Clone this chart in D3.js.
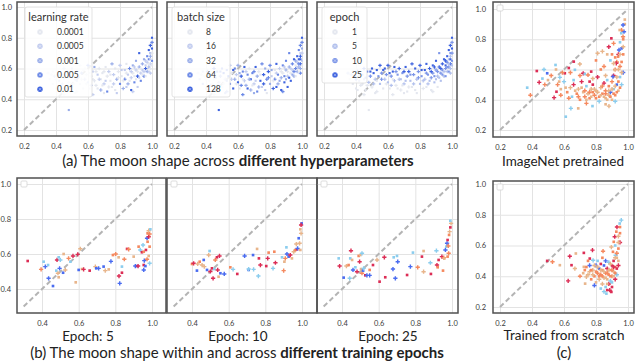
<!DOCTYPE html>
<html>
<head>
<meta charset="utf-8">
<script src="https://cdn.jsdelivr.net/npm/d3@7"></script>
<style>
  body { margin: 0; background: #fff; }
  svg { display: block; }
  text { font-family: Lato, "DejaVu Sans", sans-serif; }
</style>
</head>
<body>
<svg id="chart"></svg>
<script>
// ---- hyperparameter sweep (same runs in the three left panels of row a) ----
const hpX = [0.36,0.37,0.38,0.39,0.40,0.41,0.42,0.43,0.44,0.45, 0.45,0.46,0.47,0.48,0.48,0.49,0.50,0.50,0.51,0.52,
  0.53,0.53,0.54,0.55,0.55,0.56,0.57,0.58,0.58,0.59, 0.60,0.60,0.61,0.62,0.63,0.64,0.64,0.65,0.66,0.67,
  0.68,0.68,0.69,0.70,0.71,0.72,0.72,0.73,0.74,0.75, 0.75,0.76,0.77,0.78,0.78,0.79,0.80,0.80,0.81,0.82,
  0.83,0.83,0.84,0.85,0.85,0.86,0.87,0.87,0.88,0.88, 0.89,0.90,0.90,0.91,0.91,0.92,0.92,0.93,0.93,0.94,
  0.94,0.95,0.95,0.96,0.96,0.97,0.97,0.97,0.98,0.98, 0.98,0.99,0.99,0.99,1.00,1.00,1.00,0.99,1.00,0.99,
  0.41,0.45,0.52,0.63,0.70,0.35,
  0.38,0.40,0.42,0.44,0.46,0.47,0.49,0.51,0.53,0.56, 0.57,0.59,0.61,0.62,0.63,0.65,0.66,0.67,0.69,0.70,
  0.71,0.73,0.74,0.76,0.77,0.79,0.81,0.82,0.84,0.84, 0.86,0.87,0.89,0.89,0.90,0.91,0.92,0.93,0.94,0.95,
  0.96,0.96,0.97,0.98,0.98,0.99,0.99,1.00,1.00,0.88];
const hpY = [0.53,0.56,0.50,0.55,0.47,0.58,0.52,0.49,0.56,0.60, 0.53,0.46,0.58,0.51,0.33,0.55,0.60,0.48,0.57,0.53,
  0.59,0.45,0.55,0.62,0.50,0.57,0.47,0.53,0.60,0.56, 0.51,0.62,0.47,0.55,0.58,0.52,0.61,0.49,0.56,0.60,
  0.53,0.46,0.57,0.50,0.61,0.55,0.45,0.58,0.52,0.63, 0.48,0.56,0.60,0.53,0.44,0.58,0.50,0.62,0.55,0.47,
  0.59,0.53,0.63,0.50,0.56,0.60,0.46,0.54,0.62,0.57, 0.51,0.59,0.65,0.55,0.48,0.61,0.70,0.57,0.52,0.63,
  0.59,0.55,0.66,0.60,0.62,0.58,0.68,0.64,0.72,0.61, 0.66,0.75,0.70,0.63,0.80,0.77,0.73,0.68,0.65,0.57,
  0.46,0.43,0.44,0.43,0.44,0.57,
  0.58,0.53,0.56,0.50,0.54,0.49,0.58,0.50,0.52,0.53, 0.59,0.50,0.57,0.49,0.53,0.58,0.47,0.53,0.49,0.58,
  0.52,0.48,0.56,0.50,0.46,0.54,0.59,0.52,0.48,0.57, 0.52,0.58,0.55,0.61,0.53,0.58,0.54,0.60,0.56,0.58,
  0.55,0.65,0.61,0.63,0.58,0.60,0.66,0.70,0.62,0.45];
const hpLr = [0,0,0,1,0,0,1,0,0,1, 0,0,2,0,2,0,1,0,0,1, 0,0,1,0,0,2,0,1,0,0, 1,3,0,0,1,0,2,0,1,0,
  0,2,0,1,0,0,3,1,0,2, 0,1,0,2,1,0,3,1,0,2, 1,3,0,2,1,3,4,1,2,0, 3,1,2,4,1,2,4,1,3,2,
  1,3,2,4,1,2,3,1,4,2, 3,4,2,1,4,3,4,2,3,1, 0,0,0,1,0,0,
  0,0,0,1,0,0,0,0,1,0, 0,0,0,1,0,0,0,1,0,0, 1,0,0,1,0,0,1,0,1,0, 0,1,0,1,0,0,1,0,0,1,
  0,1,0,0,1,0,1,0,0,1];
const hpBs = [1,0,2,0,1,3,0,2,1,4, 0,2,3,1,4,2,3,0,4,1, 3,2,4,1,3,0,4,2,3,1, 4,2,0,4,3,1,4,2,3,0,
  4,2,3,1,4,2,3,0,4,3, 1,4,2,3,0,4,2,3,1,4, 0,3,4,2,3,1,4,2,3,0, 4,2,3,1,4,2,3,0,4,3,
  1,2,4,3,0,2,4,1,3,2, 4,3,1,4,4,3,2,4,1,3, 1,0,2,3,2,0,
  1,0,3,0,2,1,3,0,2,1, 4,0,2,3,0,1,4,2,0,3, 1,2,0,4,1,3,2,0,4,1, 2,0,3,1,2,0,4,1,2,3,
  0,2,1,3,0,2,4,1,0,3];
const hpEp = [0,1,0,3,0,3,1,0,2,3, 1,0,3,1,0,2,3,0,3,1, 3,0,2,3,1,2,0,1,3,2, 1,3,0,2,3,1,3,0,2,3,
  1,0,2,1,3,2,0,3,1,3, 0,2,3,1,0,2,1,3,2,0, 3,1,3,1,2,3,0,2,3,2, 1,2,3,1,0,3,2,2,1,3,
  2,1,3,2,3,1,3,2,3,2, 1,3,2,3,3,2,3,1,2,1, 0,0,0,0,0,1,
  1,2,1,0,2,0,3,1,0,2, 3,0,3,1,0,2,0,1,0,3, 1,0,2,1,0,2,3,1,0,2, 1,3,2,3,1,2,1,3,2,1,
  2,3,2,1,2,1,3,2,1,0];
const lrLabels = ["0.0001", "0.0005", "0.001", "0.005", "0.01"];
const bsLabels = ["8", "16", "32", "64", "128"];
const epLabels = ["1", "5", "10", "25"];

// ---- ImageNet pretrained ----
const ptX = [0.37,0.39,0.43,0.445,0.465,0.475,0.495,0.48,0.50,0.52, 0.547,0.574,0.605,0.538,0.553,0.56,0.58,0.60,0.611,0.643,
  0.661,0.699,0.668,0.72,0.73,0.75,0.77,0.78,0.80,0.81, 0.62,0.64,0.65,0.66,0.68,0.69,0.70,0.71,0.72,0.73,
  0.74,0.75,0.76,0.77,0.78,0.79,0.80,0.81,0.82,0.83, 0.84,0.85,0.86,0.86,0.87,0.88,0.88,0.89,0.90,0.90,
  0.91,0.91,0.92,0.92,0.93,0.93,0.94,0.94,0.95,0.95, 0.96,0.96,0.97,0.97,0.98,0.975,0.98,0.96,0.95,0.944,
  0.938,0.927,0.917,0.906,0.896,0.91,0.948,0.969,0.958,0.969, 0.778,0.74,0.689,0.881,0.63,0.59,0.55,0.85,0.87,0.88,
  0.89,0.84,0.76,0.70,0.66,0.82,0.86,0.92,0.78,
  0.58,0.61,0.63,0.67,0.69,0.71,0.73,0.74,0.76,0.77, 0.79,0.80,0.81,0.83,0.84,0.85,0.86,0.87,0.88,0.89,
  0.90,0.91,0.92,0.93,0.93,0.94,0.94,0.95,0.95,0.96, 0.96,0.97,0.97,0.92,0.91,0.90,0.86,0.83,0.64,0.57];
const ptY = [0.48,0.43,0.59,0.515,0.54,0.60,0.575,0.50,0.53,0.56, 0.63,0.548,0.575,0.414,0.453,0.50,0.47,0.52,0.288,0.343,
  0.652,0.636,0.598,0.575,0.57,0.564,0.586,0.54,0.66,0.707, 0.45,0.48,0.42,0.50,0.44,0.47,0.40,0.52,0.45,0.42,
  0.49,0.44,0.41,0.47,0.50,0.43,0.46,0.55,0.42,0.48, 0.44,0.51,0.41,0.46,0.53,0.43,0.49,0.45,0.40,0.52,
  0.47,0.56,0.43,0.60,0.50,0.65,0.46,0.70,0.55,0.62, 0.74,0.50,0.80,0.58,0.90,0.85,0.93,0.86,0.78,0.729,
  0.685,0.641,0.597,0.553,0.806,0.773,0.861,0.894,0.84,0.817, 0.358,0.376,0.343,0.358,0.61,0.58,0.60,0.62,0.70,0.75,
  0.66,0.72,0.52,0.56,0.53,0.39,0.37,0.39,0.45,
  0.43,0.48,0.41,0.46,0.42,0.48,0.46,0.40,0.45,0.42, 0.47,0.41,0.45,0.43,0.49,0.42,0.44,0.40,0.46,0.42,
  0.47,0.44,0.49,0.45,0.55,0.52,0.60,0.48,0.70,0.65, 0.58,0.70,0.75,0.68,0.64,0.70,0.56,0.60,0.58,0.52];
const ptC = [3,1,0,0,3,3,4,1,2,1, 3,3,0,0,0,1,2,3,3,3, 0,2,3,0,3,1,0,2,1,2, 1,2,3,0,1,2,1,0,2,1,
  3,2,1,2,0,1,2,0,1,2, 1,0,2,1,3,2,1,4,2,1, 3,0,1,1,4,1,2,0,3,1, 4,3,1,4,2,4,2,1,3,4,
  1,0,2,4,0,1,2,4,3,1, 3,1,2,2,0,1,2,1,2,0, 3,2,0,1,3,3,2,3,1,
  1,2,1,2,1,2,1,2,1,2, 2,1,2,2,1,2,1,2,2,1, 2,1,2,1,2,1,2,1,2,1, 2,1,2,1,2,1,2,1,1,2];

// ---- epochs 5 / 10 / 25 ----
const e5X = [0.322,0.395,0.409,0.418,0.433,0.436,0.46,0.482,0.491,0.50, 0.478,0.487,0.491,0.496,0.515,0.527,0.518,0.545,0.555,0.569,
  0.584,0.595,0.60,0.609,0.618,0.627,0.66,0.691,0.696,0.709, 0.736,0.745,0.764,0.776,0.787,0.802,0.818,0.82,0.836,0.824,
  0.836,0.849,0.864,0.873,0.90,0.909,0.918,0.924,0.927,0.936, 0.945,0.951,0.955,0.955,0.955,0.958,0.964,0.973,0.967,0.973,
  0.976,0.982,0.976,0.982,0.991,0.987,0.987,0.987,0.982];
const e5Y = [0.56,0.512,0.556,0.528,0.537,0.461,0.417,0.566,0.581,0.566, 0.505,0.49,0.467,0.518,0.493,0.509,0.60,0.575,0.556,0.589,
  0.438,0.598,0.509,0.63,0.514,0.512,0.505,0.528,0.518,0.518, 0.528,0.505,0.512,0.558,0.594,0.60,0.581,0.474,0.493,0.432,
  0.528,0.57,0.629,0.627,0.585,0.531,0.531,0.531,0.642,0.623, 0.61,0.651,0.613,0.509,0.537,0.562,0.531,0.57,0.623,0.69,
  0.67,0.699,0.718,0.733,0.741,0.714,0.642,0.547,0.589];
const e5C = [0,1,3,4,3,4,4,0,3,3, 3,2,2,4,4,2,2,1,3,0, 2,0,4,2,2,0,0,2,4,4, 4,2,2,4,1,1,2,0,0,4,
  3,1,0,1,2,4,4,0,1,3, 0,3,1,4,0,4,4,1,0,4, 1,0,1,2,3,1,1,3,2];

const e10X = [0.40,0.409,0.427,0.431,0.442,0.455,0.464,0.467,0.482,0.491, 0.496,0.50,0.509,0.515,0.522,0.527,0.536,0.54,0.545,0.55,
  0.555,0.576,0.609,0.624,0.647,0.687,0.709,0.709,0.733,0.736, 0.755,0.762,0.765,0.773,0.805,0.813,0.818,0.842,0.849,0.855,
  0.891,0.90,0.904,0.909,0.915,0.918,0.927,0.936,0.945,0.955, 0.964,0.969,0.973,0.976,0.982,0.987,0.991,0.995,0.998,0.995,
  0.991];
const e10Y = [0.543,0.547,0.505,0.543,0.556,0.537,0.566,0.528,0.509,0.594, 0.617,0.50,0.518,0.461,0.514,0.566,0.581,0.509,0.47,0.589,
  0.49,0.486,0.524,0.512,0.486,0.589,0.509,0.514,0.594,0.512, 0.629,0.474,0.575,0.537,0.531,0.575,0.608,0.518,0.613,0.55,
  0.581,0.505,0.556,0.575,0.638,0.60,0.585,0.594,0.575,0.613, 0.623,0.657,0.627,0.632,0.69,0.661,0.741,0.718,0.775,0.766,
  0.623];
const e10C = [1,0,4,2,1,2,4,2,4,2, 3,0,0,0,3,1,0,0,2,0, 4,4,1,3,0,4,4,3,4,3, 2,3,0,0,0,0,1,3,1,0,
  3,1,2,1,3,4,4,0,2,2, 1,2,0,4,4,2,2,2,4,0, 2];

const e25X = [0.382,0.387,0.409,0.424,0.436,0.449,0.445,0.442,0.455,0.46, 0.473,0.482,0.491,0.496,0.50,0.509,0.504,0.509,0.515,0.518,
  0.527,0.536,0.551,0.551,0.569,0.591,0.605,0.631,0.636,0.678, 0.682,0.691,0.70,0.704,0.755,0.773,0.787,0.813,0.836,0.845,
  0.845,0.882,0.885,0.915,0.927,0.918,0.922,0.945,0.951,0.955, 0.958,0.964,0.969,0.973,0.976,0.98,0.984,0.987,0.991,0.995,
  0.991,0.982,0.976];
const e25Y = [0.575,0.531,0.465,0.531,0.537,0.619,0.575,0.461,0.566,0.509, 0.524,0.499,0.589,0.556,0.594,0.604,0.514,0.49,0.505,0.518,
  0.478,0.478,0.509,0.478,0.537,0.566,0.442,0.581,0.467,0.514, 0.581,0.461,0.589,0.556,0.48,0.528,0.608,0.524,0.585,0.499,
  0.617,0.55,0.486,0.619,0.566,0.537,0.524,0.585,0.505,0.579, 0.574,0.623,0.642,0.661,0.68,0.646,0.709,0.728,0.752,0.775,
  0.79,0.604,0.585];
const e25C = [3,0,4,2,1,0,3,3,2,4, 3,0,1,0,2,3,2,1,4,3, 0,4,1,4,0,2,0,0,0,4, 3,4,3,4,0,4,3,1,0,2,
  2,3,0,3,0,0,1,0,1,1, 2,4,3,4,0,1,1,2,0,2, 3,1,1];

// ---- trained from scratch ----
const scX = [0.495,0.528,0.574,0.636,0.647,0.668,0.674,0.626,0.724,0.778, 0.761,0.844,0.724,0.74,0.732,0.782,0.75,0.958,0.948,0.931,
  0.927,0.917,0.911,0.896,0.906,0.923,0.865,0.886,0.896,
  0.78,0.79,0.80,0.80,0.81,0.81,0.82,0.82,0.83,0.83, 0.84,0.84,0.85,0.85,0.86,0.86,0.87,0.87,0.88,0.88,
  0.88,0.89,0.89,0.90,0.90,0.90,0.91,0.91,0.92,0.92, 0.93,0.93,0.94,0.94,0.95,0.95,0.94,0.92,0.76,0.77,
  0.79,0.83,0.85,0.87,0.76,0.72,0.70,0.74,0.86,0.84,
  0.81,0.82,0.83,0.84,0.85,0.86,0.87,0.87,0.88,0.89, 0.89,0.90,0.90,0.91,0.91,0.92,0.92,0.93,0.93,0.94,
  0.94,0.95,0.78,0.80,0.79,0.77,0.75,0.73];
const scY = [0.50,0.494,0.472,0.53,0.472,0.45,0.548,0.37,0.552,0.57, 0.515,0.563,0.461,0.396,0.352,0.504,0.50,0.765,0.743,0.72,
  0.69,0.657,0.624,0.59,0.559,0.537,0.287,0.309,0.298,
  0.44,0.40,0.47,0.36,0.42,0.50,0.38,0.45,0.41,0.48, 0.35,0.44,0.39,0.47,0.42,0.33,0.45,0.38,0.49,0.41,
  0.35,0.44,0.37,0.47,0.40,0.33,0.43,0.50,0.38,0.46, 0.41,0.52,0.47,0.58,0.62,0.68,0.66,0.60,0.43,0.38,
  0.34,0.32,0.30,0.31,0.47,0.42,0.40,0.46,0.50,0.52,
  0.46,0.40,0.44,0.40,0.43,0.39,0.42,0.35,0.44,0.40, 0.48,0.36,0.44,0.40,0.46,0.42,0.52,0.45,0.55,0.50,
  0.62,0.72,0.41,0.43,0.47,0.44,0.41,0.44];
const scC = [0,1,2,0,0,2,2,0,0,0, 0,1,2,2,2,3,1,3,3,0, 1,0,1,2,1,3,3,0,0,
  2,1,4,2,1,3,2,4,1,0, 2,1,2,4,1,3,0,2,3,1, 0,2,3,0,1,0,2,0,0,1, 3,2,0,1,0,1,2,3,2,1,
  4,3,3,0,4,2,1,1,4,1,
  2,1,2,1,2,2,1,2,2,1, 2,3,1,2,0,1,2,0,1,2, 2,1,2,1,2,1,2,1];

const ticksFull = [0.2, 0.4, 0.6, 0.8, 1.0];
const ticksEpoch = [0.4, 0.6, 0.8, 1.0];

// colours
const blues5 = ["#e4e7ef", "#c3cdef", "#99ade9", "#6a88e6", "#3e63df"];
const blues4 = ["#e4e7ef", "#b3c1ed", "#7d96e8", "#3e63df"];
const catColors = ["#dc2d55", "#f5895f", "#e8b58b", "#8bcdee", "#4a6cf0"];

const svg = d3.select("#chart").attr("width", 636).attr("height", 362);
const fmt = d3.format(".1f");

function drawPanel(p, pts, big) {
  const x = d3.scaleLinear().domain(p.dom).range(p.xr);
  const y = d3.scaleLinear().domain(p.dom).range(p.yr);
  const g = svg.append("g");
  const bottom = p.fy + p.fh;

  // grid + tick labels
  const gx = g.append("g").attr("transform", `translate(0,${bottom})`)
    .call(d3.axisBottom(x).tickValues(p.ticks).tickSize(-p.fh).tickPadding(8).tickFormat(fmt));
  const gy = g.append("g").attr("transform", `translate(${p.fx},0)`)
    .call(d3.axisLeft(y).tickValues(p.ticks).tickSize(-p.fw).tickPadding(p.ypad)
      .tickFormat(p.ylab ? fmt : () => ""));
  [gx, gy].forEach(a => {
    a.select(".domain").remove();
    a.selectAll("line").attr("stroke", "#e3e3e3").attr("stroke-width", 1);
    a.selectAll("text").attr("fill", "#3a3a3a").attr("font-size", 7.5);
  });

  // identity line
  g.append("line")
    .attr("x1", x(p.diag)).attr("y1", y(p.diag))
    .attr("x2", x(1)).attr("y2", y(1))
    .attr("stroke", "#b4b4b4").attr("stroke-width", 2)
    .attr("stroke-dasharray", "5,3");

  const cross = d3.symbol().type(d3.symbolCross).size(big ? 10 : 6.5);
  const square = d3.symbol().type(d3.symbolSquare).size(big ? 7 : 4.5);
  g.append("g").selectAll("path").data(pts).join("path")
    .attr("transform", d => `translate(${x(d.x)},${y(d.y)})`)
    .attr("d", (d, i) => (i % 2 ? cross : square)())
    .attr("fill", d => d.c);

  g.append("rect")
    .attr("x", p.fx).attr("y", p.fy).attr("width", p.fw).attr("height", p.fh)
    .attr("fill", "none").attr("stroke", "#505050").attr("stroke-width", 1.5);
  return g;
}

function emptyLegend(p) {
  svg.append("rect").attr("x", p.fx + 4).attr("y", p.fy + 3).attr("width", 6).attr("height", 6)
    .attr("rx", 1).attr("fill", "#fff").attr("stroke", "#d4d4d4").attr("stroke-width", 0.8);
}

function hueLegend(box, title, labels, colors) {
  const g = svg.append("g");
  g.append("rect").attr("x", box.x).attr("y", box.y).attr("width", box.w).attr("height", box.h)
    .attr("rx", 2).attr("fill", "#fff").attr("fill-opacity", 0.85)
    .attr("stroke", "#dcdcdc").attr("stroke-width", 0.8);
  g.append("text").attr("x", box.x + box.w / 2).attr("y", box.y + 14)
    .attr("text-anchor", "middle").attr("font-size", 11).attr("fill", "#333").text(title);
  const row = g.selectAll("g.row").data(labels).join("g").attr("class", "row")
    .attr("transform", (d, i) => `translate(0,${box.y + 25 + i * 14.3})`);
  row.append("circle").attr("cx", box.hx).attr("cy", 0).attr("r", 2.7)
    .attr("fill", (d, i) => colors[i]);
  row.append("path").attr("d", `M${box.hx - 1.4},-1.4L${box.hx + 1.4},1.4M${box.hx - 1.4},1.4L${box.hx + 1.4},-1.4`)
    .attr("stroke", "#fff").attr("stroke-width", 0.6).attr("stroke-opacity", 0.7);
  row.append("text").attr("x", box.lx).attr("y", 3).attr("font-size", 8.5).attr("fill", "#333").text(d => d);
}

const toPts = (X, Y, col) => X.map((v, i) => ({ x: v, y: Y[i], c: col(i) }));

// ---- row a ----
const aBase = { dom: [0.2, 1], ticks: ticksFull, diag: 0.2, fy: 2, fh: 134, fw: 140, yr: [130, 7] };
const a1 = Object.assign({}, aBase, { fx: 17, xr: [24, 152], ylab: true, ypad: 5 });
const a2 = Object.assign({}, aBase, { fx: 167, xr: [174, 302], ylab: false, ypad: 5 });
const a3 = Object.assign({}, aBase, { fx: 317, xr: [324, 452], ylab: false, ypad: 5 });
const a4 = Object.assign({}, aBase, { fx: 493, fw: 141, fh: 135, xr: [500, 628], yr: [130, 9], ylab: true, ypad: 7 });

drawPanel(a1, toPts(hpX, hpY, i => blues5[hpLr[i]]), false);
drawPanel(a2, toPts(hpX, hpY, i => blues5[hpBs[i]]), false);
drawPanel(a3, toPts(hpX, hpY, i => blues4[hpEp[i]]), false);
drawPanel(a4, toPts(ptX, ptY, i => catColors[ptC[i]]), true);
emptyLegend(a4);

hueLegend({ x: 25, y: 7, w: 67, h: 90, hx: 40, lx: 57 }, "learning rate", lrLabels, blues5);
hueLegend({ x: 172, y: 7, w: 58, h: 90, hx: 190, lx: 206 }, "batch size", bsLabels, blues5);
hueLegend({ x: 322, y: 7, w: 45, h: 76, hx: 335, lx: 352 }, "epoch", epLabels, blues4);

// ---- row b ----
const bBase = { dom: [0.4, 1], ticks: ticksEpoch, diag: 0.3, fy: 178, fh: 135, yr: [289, 184] };
const b1 = Object.assign({}, bBase, { fx: 17, fw: 149, xr: [42, 152], ylab: true, ypad: 6 });
const b2 = Object.assign({}, bBase, { fx: 167, fw: 150, xr: [192, 302], ylab: false, ypad: 6 });
const b3 = Object.assign({}, bBase, { fx: 317, fw: 141, xr: [342, 452], ylab: false, ypad: 6 });
drawPanel(b1, toPts(e5X, e5Y, i => catColors[e5C[i]]), true);
drawPanel(b2, toPts(e10X, e10Y, i => catColors[e10C[i]]), true);
drawPanel(b3, toPts(e25X, e25Y, i => catColors[e25C[i]]), true);
[b1, b2, b3].forEach(emptyLegend);

// ---- panel c ----
const c1 = { dom: [0.2, 1], ticks: ticksFull, diag: 0.2, fx: 493, fy: 181, fw: 141, fh: 132,
  xr: [500, 628], yr: [307, 184], ylab: true, ypad: 7 };
drawPanel(c1, toPts(scX, scY, i => catColors[scC[i]]), true);
emptyLegend(c1);

// ---- titles and captions ----
function caption(x, y, size, parts) {
  const t = svg.append("text").attr("x", x).attr("y", y).attr("text-anchor", "middle")
    .attr("font-size", size).attr("fill", "#222");
  parts.forEach(([s, bold]) => t.append("tspan").attr("font-weight", bold ? "bold" : "normal").text(s));
}
caption(563, 166, 13.5, [["ImageNet pretrained"]]);
caption(88, 341, 13.5, [["Epoch: 5"]]);
caption(238, 341, 13.5, [["Epoch: 10"]]);
caption(388, 341, 13.5, [["Epoch: 25"]]);
caption(564, 340, 13.5, [["Trained from scratch"]]);
caption(238, 166, 15, [["(a) The moon shape across "], ["different hyperparameters", true]]);
caption(237, 358, 15, [["(b) The moon shape within and across "], ["different training epochs", true]]);
caption(564, 358, 15, [["(c)"]]);
</script>
</body>
</html>
